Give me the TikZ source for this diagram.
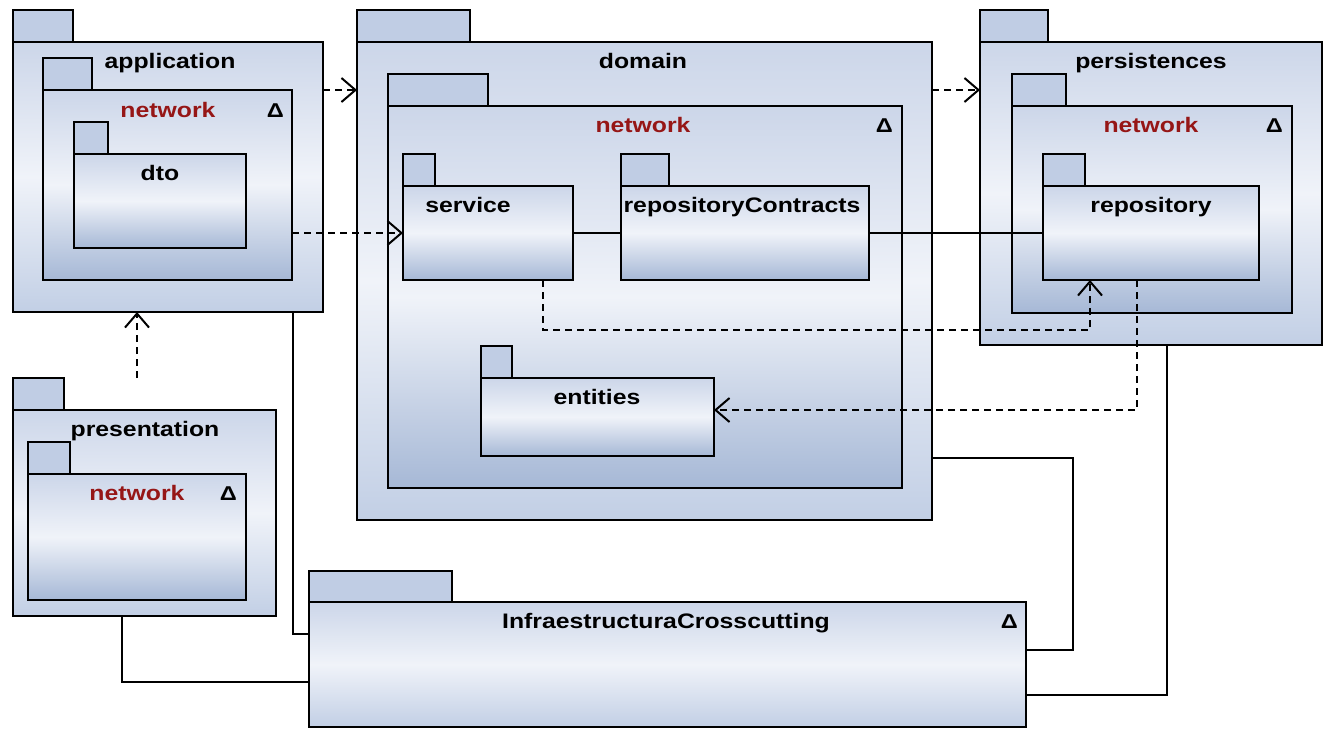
\documentclass[tikz,border=0pt]{standalone}
\usepackage{fontspec}
\setmainfont[FakeStretch=1.18]{Liberation Sans}
\usetikzlibrary{arrows.meta}
\definecolor{pkTop}{RGB}{204,214,233}
\definecolor{pkMid}{RGB}{240,243,249}
\definecolor{pkBotO}{RGB}{194,207,229}
\definecolor{pkBotI}{RGB}{166,184,214}
\definecolor{pkTab}{RGB}{192,205,228}
\definecolor{netred}{RGB}{150,22,22}
\tikzset{
  box/.style={draw=black, line width=2.2pt, inner sep=0pt, outer sep=0pt, rectangle},
  outerfill/.style={top color=pkTop, bottom color=pkBotO, middle color=pkMid},
  innerfill/.style={top color=pkTop, bottom color=pkBotI, middle color=pkMid},
  tabfill/.style={fill=pkTab},
  lbl/.style={font=\fontsize{21}{21}\selectfont\bfseries, text=black, inner sep=0pt, anchor=base},
  netlbl/.style={lbl, text=netred},
  dlt/.style={font=\fontsize{20}{20}\selectfont\bfseries, text=black, inner sep=0pt, anchor=base east},
  conn/.style={line width=2pt, draw=black},
  dep/.style={conn, dash pattern=on 7pt off 5pt, -{Straight Barb[length=14pt,width=24pt,line width=2pt]}},
}
% #1 name, #2 x1, #3 tab top, #4 body top, #5 tab right, #6 x2, #7 y2, #8 fill style
\newcommand\pkgbox[8]{%
  \node[box,tabfill,anchor=south west,minimum width={(#5-#2)*1pt},minimum height={(#4-#3)*1pt}] (#1tab) at (#2,#4) {};
  \node[box,#8,anchor=north west,minimum width={(#6-#2)*1pt},minimum height={(#7-#4)*1pt}] (#1) at (#2,#4) {};
}
\begin{document}
\begin{tikzpicture}[x=1pt,y=-1pt]
\useasboundingbox[fill=white] (0,0) rectangle (1327,729);

% application
\pkgbox{app}{13}{10}{42}{73}{323}{312}{outerfill}
\pkgbox{appnet}{43}{58}{90}{92}{292}{280}{innerfill}
\pkgbox{dto}{74}{122}{154}{108}{246}{248}{innerfill}
\node[lbl] (applbl) at (170,68) {application};
\node[netlbl] (appnetlbl) at (168,117) {network};
\node[dlt] (appnetd) at (284,117) {Δ};
\node[lbl] (dtolbl) at (160,180) {dto};

% domain
\pkgbox{dom}{357}{10}{42}{470}{932}{520}{outerfill}
\pkgbox{domnet}{388}{74}{106}{488}{902}{488}{innerfill}
\pkgbox{serv}{403}{154}{186}{435}{573}{280}{innerfill}
\pkgbox{rc}{621}{154}{186}{669}{869}{280}{innerfill}
\pkgbox{ent}{481}{346}{378}{512}{714}{456}{innerfill}
\node[lbl] (domlbl) at (643,68) {domain};
\node[netlbl] (domnetlbl) at (643,132) {network};
\node[dlt] (domnetd) at (893,132) {Δ};
\node[lbl] (servlbl) at (468,212) {service};
\node[lbl] (rclbl) at (742,212) {repositoryContracts};
\node[lbl] (entlbl) at (597,404) {entities};

% persistences
\pkgbox{pers}{980}{10}{42}{1048}{1322}{345}{outerfill}
\pkgbox{persnet}{1012}{74}{106}{1066}{1292}{313}{innerfill}
\pkgbox{repo}{1043}{154}{186}{1085}{1259}{280}{innerfill}
\node[lbl] (perslbl) at (1151,68) {persistences};
\node[netlbl] (persnetlbl) at (1151,132) {network};
\node[dlt] (persnetd) at (1283,132) {Δ};
\node[lbl] (repolbl) at (1151,212) {repository};

% presentation
\pkgbox{pres}{13}{378}{410}{64}{276}{616}{outerfill}
\pkgbox{presnet}{28}{442}{474}{70}{246}{600}{innerfill}
\node[lbl] (preslbl) at (145,436) {presentation};
\node[netlbl] (presnetlbl) at (137,500) {network};
\node[dlt] (presnetd) at (237,500) {Δ};

% InfraestructuraCrosscutting
\pkgbox{infra}{309}{571}{602}{452}{1026}{727}{outerfill}
\node[lbl] (infralbl) at (666,628) {InfraestructuraCrosscutting};
\node[dlt] (infrad) at (1018,628) {Δ};

% dependencies
\draw[dep] ([yshift=-48pt]app.north east) -- ([yshift=-48pt]dom.north west);
\draw[dep] ([yshift=-48pt]dom.north east) -- ([yshift=-48pt]pers.north west);
\draw[dep] (appnet.east |- serv.west) -- (serv.west);
\draw[dep] ([xshift=-7.5pt,yshift=32pt]pres.north) -- ([xshift=-7.5pt]pres.north |- app.south);
\draw[dep] ([xshift=55pt]serv.south) -- ++(0,50) -| ([xshift=-61pt]repo.south);
\draw[dep] ([xshift=-14pt]repo.south) |- ([yshift=7pt]ent.east);

% associations
\draw[conn] (serv.east) -- (rc.west);
\draw[conn] (rc.east) -- (repo.west);
\draw[conn] ([xshift=-30pt]app.south east) |- ([yshift=31pt]infra.west);
\draw[conn] ([xshift=-22.5pt]pres.south) |- ([yshift=-17pt]infra.west);
\draw[conn] ([yshift=62pt]dom.south east) -- ++(141,0) |- ([yshift=15pt]infra.east);
\draw[conn] ([xshift=16pt]pers.south) |- ([yshift=-30pt]infra.east);
\end{tikzpicture}
\end{document}
